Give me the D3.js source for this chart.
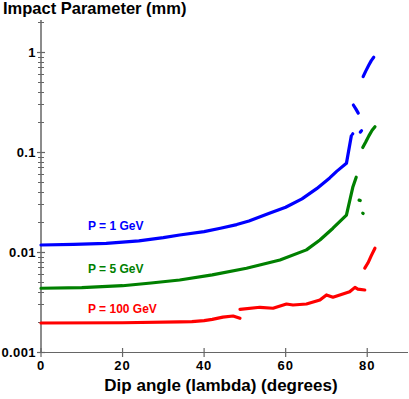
<!DOCTYPE html>
<html>
<head>
<meta charset="utf-8">
<script src="https://cdn.jsdelivr.net/npm/d3@7"></script>
<style>
  body { margin: 0; background: #fff; }
  text { font-family: Arial, "Liberation Sans", sans-serif; font-weight: bold; }
</style>
</head>
<body>
<svg width="409" height="399"></svg>
<script>
// 数据: [dip angle (deg), impact parameter (mm)], null 表示断开
const blueData = [
  [0, 0.01175], [8, 0.0119], [16, 0.0122], [24, 0.0129], [30, 0.0139], [34, 0.0148],
  [40, 0.016], [44, 0.0173], [48, 0.0188], [51, 0.0204], [56, 0.0244], [60, 0.028],
  [64, 0.034], [67.6, 0.043], [70.8, 0.055], [72.5, 0.064], [74.9, 0.077], [76.1, 0.145],
  null, [76.4, 0.151], [76.45, 0.152],
  null, [78.3, 0.158], [78.6, 0.163],
  null, [76.6, 0.295], [77.2, 0.27], [77.8, 0.245],
  null, [79.0, 0.567], [79.6, 0.64], [80.4, 0.74], [81.0, 0.82], [81.6, 0.885]
];
const greenData = [
  [0, 0.00434], [10, 0.0044], [20, 0.0046], [27, 0.0049], [34, 0.00525], [42, 0.0059],
  [50.4, 0.00687], [58.6, 0.00832], [65.1, 0.0105], [68.4, 0.0132], [71.6, 0.0173],
  [74.9, 0.0234], [76.5, 0.045], [77.3, 0.056],
  null, [78.0, 0.033], [78.3, 0.0327],
  null, [78.9, 0.0245], [79.0, 0.0243],
  null, [78.9, 0.111], [79.6, 0.125], [80.4, 0.145], [81.2, 0.165], [81.9, 0.179]
];
const redData = [
  [0, 0.00195], [20, 0.00196], [34, 0.002], [37, 0.00201], [40, 0.00206], [42, 0.00212],
  [44.6, 0.00223], [47.1, 0.00229], [48.8, 0.00217],
  null, [48.8, 0.00267], [53.7, 0.0028], [56.9, 0.00274], [60.2, 0.00302], [61.8, 0.00295],
  [65.1, 0.00302], [68.4, 0.00331], [70, 0.00372], [71.6, 0.00353], [75.7, 0.004],
  [77, 0.00443], [77.7, 0.00426], [79.4, 0.00417],
  null, [79.4, 0.0069], [80.2, 0.0078], [81, 0.0092], [81.9, 0.0109]
];

const seriesNames = ["P = 1 GeV", "P = 5 GeV", "P = 100 GeV"];
const seriesColors = ["#0000ff", "#008000", "#ff0000"];
const xTicks = [0, 20, 40, 60, 80];
const yTicks = [0.001, 0.01, 0.1, 1];
const yTickLabels = ["0.001", "0.01", "0.1", "1"];

const svg = d3.select("svg");

const x = d3.scaleLinear().domain([0, 90]).range([41, 408]);
const y = d3.scaleLog().domain([0.001, 2.089]).range([352, 20]);

const axisColor = "#666";

// y 轴
svg.append("line")
  .attr("x1", 41).attr("x2", 41)
  .attr("y1", y.range()[1]).attr("y2", y.range()[0])
  .attr("stroke", axisColor).attr("stroke-width", 1.5);

// 小刻度
const minor = y.ticks().filter(v => yTicks.indexOf(v) < 0);
svg.selectAll(".minor").data(minor).enter().append("line")
  .attr("x1", 38).attr("x2", 44)
  .attr("y1", d => Math.round(y(d)) + 0.5).attr("y2", d => Math.round(y(d)) + 0.5)
  .attr("stroke", axisColor);

svg.selectAll(".major").data(yTicks).enter().append("line")
  .attr("x1", 37).attr("x2", 45)
  .attr("y1", d => Math.round(y(d)) + 0.5).attr("y2", d => Math.round(y(d)) + 0.5)
  .attr("stroke", axisColor).attr("stroke-width", 1.2);

svg.selectAll(".ylab").data(yTicks).enter().append("text")
  .attr("x", 36).attr("y", d => y(d))
  .attr("dy", "0.36em")
  .attr("text-anchor", "end")
  .attr("font-size", 13)
  .attr("letter-spacing", 0.4)
  .text((d, i) => yTickLabels[i]);

// x 轴
svg.append("line")
  .attr("x1", 41).attr("x2", 408)
  .attr("y1", 352.5).attr("y2", 352.5)
  .attr("stroke", axisColor).attr("stroke-width", 1.2);

svg.selectAll(".xtick").data(xTicks).enter().append("line")
  .attr("x1", d => x(d)).attr("x2", d => x(d))
  .attr("y1", 348).attr("y2", 357)
  .attr("stroke", axisColor).attr("stroke-width", 1.2);

svg.selectAll(".xlab").data(xTicks).enter().append("text")
  .attr("x", d => x(d)).attr("y", 370)
  .attr("text-anchor", "middle")
  .attr("font-size", 13)
  .attr("letter-spacing", 1)
  .text(d => d);

// 标题
svg.append("text")
  .attr("x", 3).attr("y", 14)
  .attr("font-size", 16.5)
  .text("Impact Parameter (mm)");

svg.append("text")
  .attr("x", 221).attr("y", 391)
  .attr("text-anchor", "middle")
  .attr("font-size", 17)
  .text("Dip angle (lambda) (degrees)");

// 曲线
const line = d3.line()
  .defined(d => d !== null)
  .x(d => x(d[0]))
  .y(d => y(d[1]));

[blueData, greenData, redData].forEach((data, i) => {
  svg.append("path")
    .attr("d", line(data))
    .attr("fill", "none")
    .attr("stroke", seriesColors[i])
    .attr("stroke-width", 3.2)
    .attr("stroke-linejoin", "round")
    .attr("stroke-linecap", "round");
});

// 曲线标签
const labelPos = [[88, 230], [88, 273], [88, 313]];
seriesNames.forEach((name, i) => {
  svg.append("text")
    .attr("x", labelPos[i][0]).attr("y", labelPos[i][1])
    .attr("font-size", 12)
    .attr("fill", seriesColors[i])
    .text(name);
});
</script>
</body>
</html>
